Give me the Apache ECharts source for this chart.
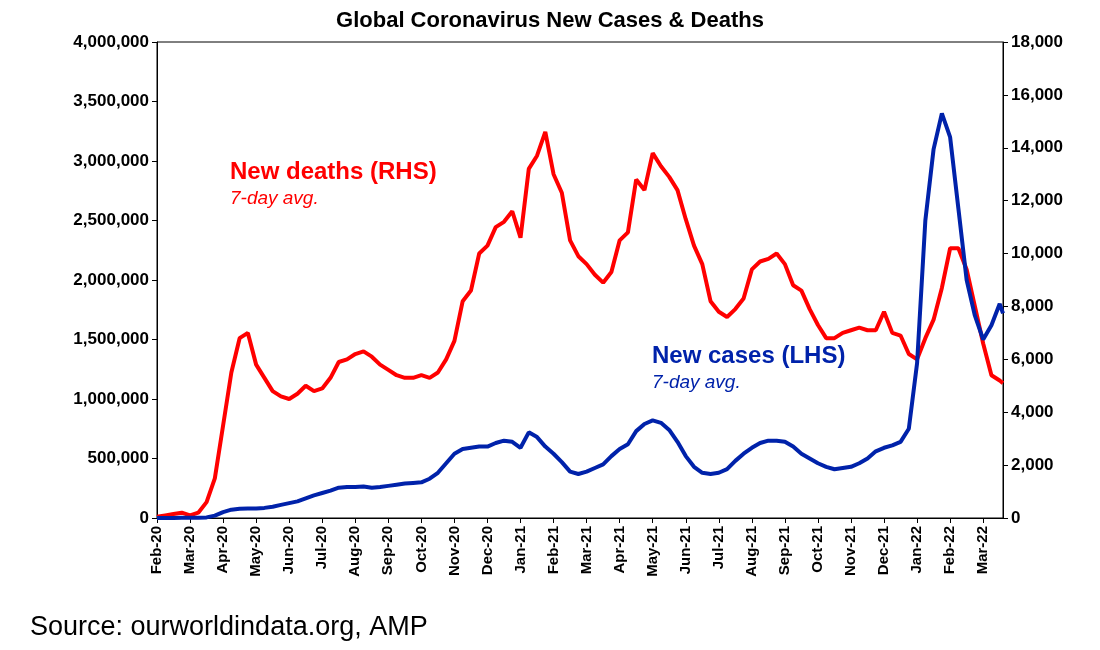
<!DOCTYPE html>
<html><head><meta charset="utf-8">
<script src="https://cdn.jsdelivr.net/npm/echarts@6/dist/echarts.min.js"></script>
<style>html,body{margin:0;padding:0;background:#fff}#main{width:1100px;height:650px}</style>
</head><body><div id="main"></div>
<script>
// month index 0 = Feb-20, samples every quarter month
var monthLabels = ['Feb-20','Mar-20','Apr-20','May-20','Jun-20','Jul-20','Aug-20','Sep-20','Oct-20','Nov-20','Dec-20',
  'Jan-21','Feb-21','Mar-21','Apr-21','May-21','Jun-21','Jul-21','Aug-21','Sep-21','Oct-21','Nov-21','Dec-21','Jan-22','Feb-22','Mar-22'];
// new deaths, thousands (RHS)
var deaths = [0.05,0.1,0.15,0.2, 0.1,0.2,0.6,1.5, 3.5,5.5,6.8,7.0, 5.8,5.3,4.8,4.6, 4.5,4.7,5.0,4.8,
  4.9,5.3,5.9,6.0, 6.2,6.3,6.1,5.8, 5.6,5.4,5.3,5.3, 5.4,5.3,5.5,6.0, 6.7,8.2,8.6,10.0,
  10.3,11.0,11.2,11.6, 10.6,13.2,13.7,14.6, 13.0,12.3,10.5,9.9, 9.6,9.2,8.9,9.3, 10.5,10.8,12.8,12.4,
  13.8,13.3,12.9,12.4, 11.3,10.3,9.6,8.2, 7.8,7.6,7.9,8.3, 9.4,9.7,9.8,10.0, 9.6,8.8,8.6,7.9,
  7.3,6.8,6.8,7.0, 7.1,7.2,7.1,7.1, 7.8,7.0,6.9,6.2, 6.0,6.8,7.5,8.7, 10.2,10.2,9.4,8.0, 6.6,5.4,5.2];
// new cases, thousands (LHS)
var cases = [0,1,1,2, 2,3,5,20, 50,70,78,80, 80,85,95,110, 125,140,165,190,
  210,230,255,260, 260,265,255,260, 270,280,290,295, 300,330,380,460, 540,580,590,600,
  600,630,650,640, 590,720,680,600, 540,470,390,370, 390,420,450,520, 580,620,730,790,
  820,800,740,640, 520,430,380,370, 380,410,480,540, 590,630,650,650, 640,600,540,500,
  460,430,410,420, 430,460,500,560, 590,610,640,750, 1300,2500,3100,3400, 3200,2600,2000,1700, 1500,1620,1800];
var lastMonth = 25.6, lastDeaths = 5.1, lastCases = 1720;

var deathPts = deaths.map(function(v,i){return [i*0.25, v*1000];});
var casePts = cases.map(function(v,i){return [i*0.25, v*1000];});
casePts.push([lastMonth, lastCases*1000]); deathPts.push([lastMonth, lastDeaths*1000]);

var bold = {fontFamily:'Liberation Sans, Arial', fontWeight:'bold', color:'#000'};
var chart = echarts.init(document.getElementById('main'));
chart.setOption({
  animation:false,
  title:{text:'Global Coronavirus New Cases & Deaths', left:'center', top:5,
    textStyle:{fontFamily:'Liberation Sans, Arial', fontWeight:'bold', fontSize:22, color:'#000'}},
  grid:{left:157, right:97, top:42, bottom:132, show:true, borderColor:'#000', borderWidth:1},
  xAxis:{type:'value', min:0, max:lastMonth, interval:1,
    axisLine:{lineStyle:{color:'#000'}}, axisTick:{show:true, lineStyle:{color:'#000'}},
    splitLine:{show:false},
    axisLabel:Object.assign({rotate:90, fontSize:15, showMaxLabel:false,
      formatter:function(v){return monthLabels[Math.round(v)] || '';}}, bold)},
  yAxis:[
    {type:'value', min:0, max:4000000, interval:500000, splitLine:{show:false},
      axisLine:{show:true, lineStyle:{color:'#000'}}, axisTick:{show:true, lineStyle:{color:'#000'}},
      axisLabel:Object.assign({fontSize:17, formatter:function(v){return v.toLocaleString('en-US');}}, bold)},
    {type:'value', min:0, max:18000, interval:2000, splitLine:{show:false},
      axisLine:{show:true, lineStyle:{color:'#000'}}, axisTick:{show:true, lineStyle:{color:'#000'}},
      axisLabel:Object.assign({fontSize:17, formatter:function(v){return v.toLocaleString('en-US');}}, bold)}
  ],
  series:[
    {name:'New deaths (RHS)', type:'line', yAxisIndex:1, data:deathPts, showSymbol:false,
      lineStyle:{color:'#ff0000', width:4}, z:2},
    {name:'New cases (LHS)', type:'line', yAxisIndex:0, data:casePts, showSymbol:false,
      lineStyle:{color:'#0022aa', width:4}, z:3}
  ],
  graphic:[
    {type:'text', left:230, top:160, style:{text:'New deaths (RHS)', fill:'#ff0000', font:'bold 24px Liberation Sans, Arial'}},
    {type:'text', left:230, top:189, style:{text:'7-day avg.', fill:'#ff0000', font:'italic 19px Liberation Sans, Arial'}},
    {type:'text', left:652, top:344, style:{text:'New cases (LHS)', fill:'#0022aa', font:'bold 24px Liberation Sans, Arial'}},
    {type:'text', left:652, top:373, style:{text:'7-day avg.', fill:'#0022aa', font:'italic 19px Liberation Sans, Arial'}},
    {type:'text', left:30, top:614, style:{text:'Source: ourworldindata.org, AMP', fill:'#000', font:'27px Liberation Sans, Arial'}}
  ]
});
</script></body></html>
